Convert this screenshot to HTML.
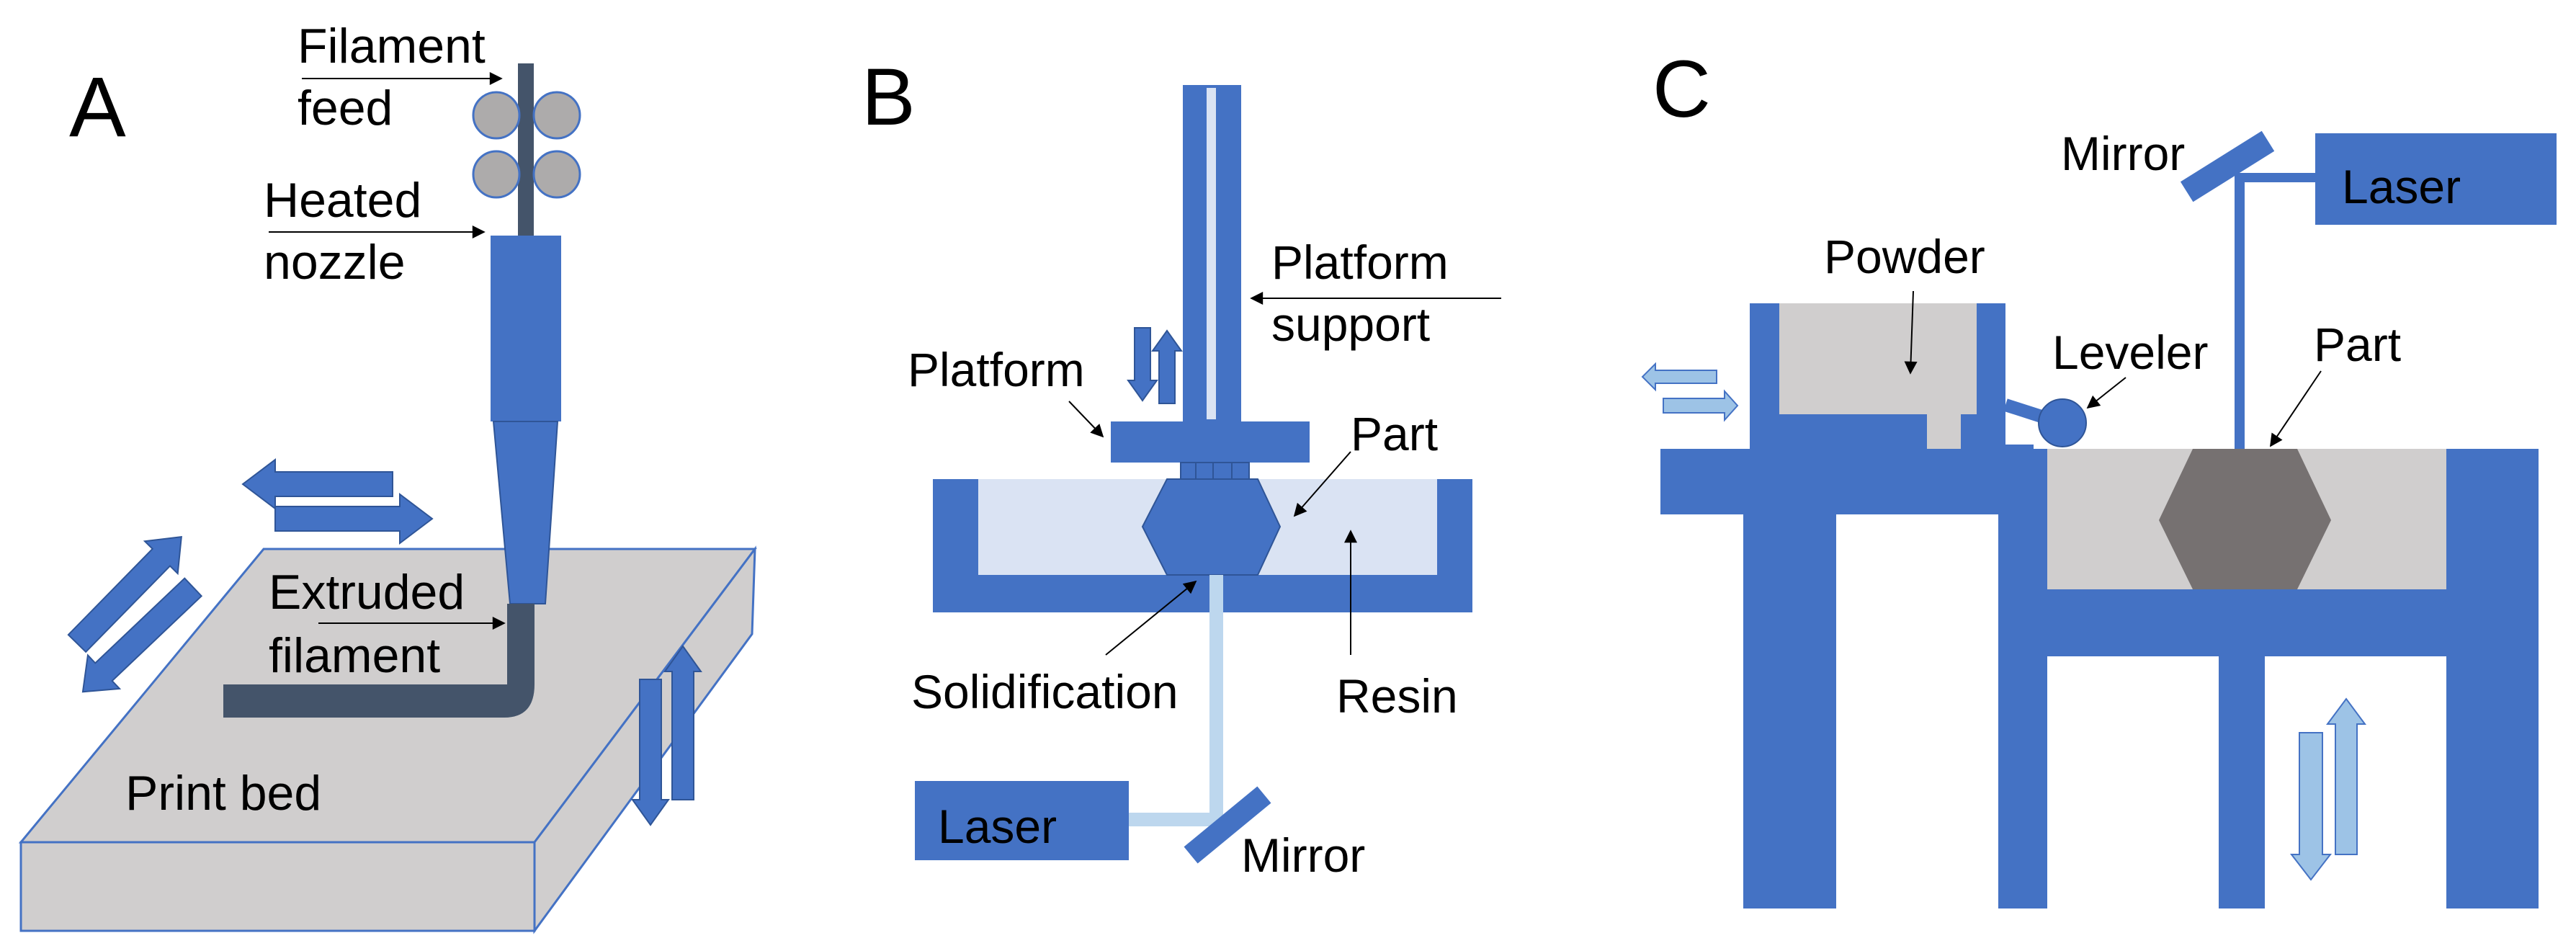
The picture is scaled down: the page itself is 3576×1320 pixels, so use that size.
<!DOCTYPE html>
<html><head><meta charset="utf-8"><style>html,body{margin:0;padding:0;background:#fff}svg{display:block}text{font-family:"Liberation Sans",Arial,sans-serif;fill:#000}</style></head>
<body>
<svg width="3576" height="1320" viewBox="0 0 3576 1320" xmlns="http://www.w3.org/2000/svg">
<defs>
<marker id="ah" viewBox="0 0 10 10" refX="9" refY="5" markerWidth="9" markerHeight="9" markerUnits="userSpaceOnUse" orient="auto"><path d="M0,0L10,5L0,10z" fill="#000"/></marker>
<marker id="ah2" viewBox="0 0 10 10" refX="9" refY="5" markerWidth="22" markerHeight="18" markerUnits="userSpaceOnUse" orient="auto"><path d="M0,0L10,5L0,10z" fill="#000"/></marker>
</defs>
<rect width="3576" height="1320" fill="#fff"/>

<!-- ================= Panel A ================= -->
<text x="96" y="189" font-size="118">A</text>
<!-- bed -->
<polygon points="366,762 1048,762 742,1169 29,1169" fill="#D0CECE" stroke="#4472C4" stroke-width="3"/>
<polygon points="29,1169 742,1169 742,1292 29,1292" fill="#D0CECE" stroke="#4472C4" stroke-width="3"/>
<polygon points="742,1169 1048,762 1044,880 742,1292" fill="#D0CECE" stroke="#4472C4" stroke-width="3"/>
<text x="174" y="1124" font-size="68">Print bed</text>
<!-- filament feed line -->
<rect x="719" y="88" width="22" height="240" fill="#44546A"/>
<circle cx="689" cy="160" r="32" fill="#ADABAB" stroke="#4472C4" stroke-width="3"/>
<circle cx="773" cy="160" r="32" fill="#ADABAB" stroke="#4472C4" stroke-width="3"/>
<circle cx="689" cy="242" r="32" fill="#ADABAB" stroke="#4472C4" stroke-width="3"/>
<circle cx="773" cy="242" r="32" fill="#ADABAB" stroke="#4472C4" stroke-width="3"/>
<!-- nozzle -->
<rect x="681" y="327" width="98" height="258" fill="#4472C4"/>
<polygon points="685,585 774,585 757,838 708,838" fill="#4472C4" stroke="#2F5597" stroke-width="2"/>
<!-- extruded filament -->
<path d="M704,838 L742,838 L742,950 Q742,996 700,996 L310,996 L310,950 L704,950 Z" fill="#44546A"/>
<!-- labels A -->
<text x="413" y="87" font-size="68">Filament</text>
<text x="413" y="173" font-size="68">feed</text>
<line x1="419" y1="109" x2="696" y2="109" stroke="#000" stroke-width="2" marker-end="url(#ah2)"/>
<text x="366" y="301" font-size="68">Heated</text>
<text x="366" y="387" font-size="68">nozzle</text>
<line x1="373" y1="322" x2="672" y2="322" stroke="#000" stroke-width="2" marker-end="url(#ah2)"/>
<text x="373" y="845" font-size="68">Extruded</text>
<text x="373" y="933" font-size="68">filament</text>
<line x1="442" y1="865" x2="700" y2="865" stroke="#000" stroke-width="2" marker-end="url(#ah2)"/>
<!-- block arrows A -->
<g fill="#4472C4" stroke="#2F5597" stroke-width="2">
<path transform="translate(545,672) rotate(180)" d="M0,-17 L163,-17 L163,-34 L208,0 L163,34 L163,17 L0,17Z"/>
<path transform="translate(382,720)" d="M0,-17 L173,-17 L173,-34 L218,0 L173,34 L173,17 L0,17Z"/>
<path transform="translate(107,893) rotate(-45.6)" d="M0,-17 L167,-17 L167,-32 L207,0 L167,32 L167,17 L0,17Z"/>
<path transform="translate(268,815) rotate(136.5)" d="M0,-17 L171,-17 L171,-32 L211,0 L171,32 L171,17 L0,17Z"/>
<path transform="translate(903,943) rotate(90)" d="M0,-15 L167,-15 L167,-25 L202,0 L167,25 L167,15 L0,15Z"/>
<path transform="translate(948,1110) rotate(-90)" d="M0,-15 L178,-15 L178,-25 L213,0 L178,25 L178,15 L0,15Z"/>
</g>

<!-- ================= Panel B ================= -->
<text x="1196" y="173" font-size="112">B</text>
<rect x="1642" y="118" width="81" height="467" fill="#4472C4"/>
<rect x="1675" y="122" width="13" height="460" fill="#DAE3F3"/>
<rect x="1542" y="585" width="276" height="57" fill="#4472C4"/>
<rect x="1639" y="642" width="95" height="23" fill="#4472C4" stroke="#2F5597" stroke-width="2"/>
<line x1="1660" y1="642" x2="1660" y2="665" stroke="#2F5597" stroke-width="2"/>
<line x1="1684" y1="642" x2="1684" y2="665" stroke="#2F5597" stroke-width="2"/>
<line x1="1710" y1="642" x2="1710" y2="665" stroke="#2F5597" stroke-width="2"/>
<rect x="1295" y="665" width="749" height="185" fill="#4472C4"/>
<rect x="1358" y="665" width="637" height="133" fill="#DAE3F3"/>
<polygon points="1586,731 1620,665 1746,665 1777,731 1746,798 1620,798" fill="#4472C4" stroke="#2F5597" stroke-width="2"/>
<rect x="1679" y="798" width="19" height="345" fill="#BDD7EE"/>
<rect x="1566" y="1128" width="125" height="19" fill="#BDD7EE"/>
<rect x="1270" y="1084" width="297" height="110" fill="#4472C4"/>
<text x="1302" y="1170" font-size="66">Laser</text>
<rect x="1638" y="1130" width="132" height="30" fill="#4472C4" transform="rotate(-39.5 1704 1145)"/>
<text x="1723" y="1210" font-size="66">Mirror</text>
<text x="1765" y="387" font-size="66">Platform</text>
<text x="1765" y="473" font-size="66">support</text>
<line x1="2084" y1="414" x2="1737" y2="414" stroke="#000" stroke-width="2" marker-end="url(#ah2)"/>
<text x="1260" y="536" font-size="66">Platform</text>
<line x1="1484" y1="557" x2="1531" y2="606" stroke="#000" stroke-width="2" marker-end="url(#ah2)"/>
<text x="1875" y="625" font-size="66">Part</text>
<line x1="1875" y1="627" x2="1797" y2="716" stroke="#000" stroke-width="2" marker-end="url(#ah2)"/>
<text x="1855" y="989" font-size="66">Resin</text>
<line x1="1875" y1="909" x2="1875" y2="737" stroke="#000" stroke-width="2" marker-end="url(#ah2)"/>
<text x="1265" y="983" font-size="66">Solidification</text>
<line x1="1535" y1="909" x2="1660" y2="807" stroke="#000" stroke-width="2" marker-end="url(#ah2)"/>
<g fill="#4472C4" stroke="#2F5597" stroke-width="2">
<path transform="translate(1586,455) rotate(90)" d="M0,-11 L73,-11 L73,-20 L101,0 L73,20 L73,11 L0,11Z"/>
<path transform="translate(1620,560) rotate(-90)" d="M0,-11 L73,-11 L73,-20 L101,0 L73,20 L73,11 L0,11Z"/>
</g>

<!-- ================= Panel C ================= -->
<text x="2294" y="162" font-size="112">C</text>
<rect x="3026" y="217" width="133" height="33" fill="#4472C4" transform="rotate(-32 3088 233)"/>
<text x="2861" y="236" font-size="66">Mirror</text>
<rect x="3214" y="185" width="335" height="127" fill="#4472C4"/>
<text x="3251" y="282" font-size="66">Laser</text>
<rect x="3102" y="240" width="112" height="13" fill="#4472C4"/>
<rect x="3102" y="244" width="14" height="379" fill="#4472C4"/>
<!-- powder hopper -->
<rect x="2470" y="421" width="274" height="154" fill="#D0CECE"/>
<rect x="2675" y="575" width="47" height="48" fill="#D0CECE"/>
<rect x="2429" y="421" width="41" height="202" fill="#4472C4"/>
<rect x="2744" y="421" width="40" height="202" fill="#4472C4"/>
<rect x="2470" y="575" width="205" height="48" fill="#4472C4"/>
<rect x="2722" y="575" width="22" height="48" fill="#4472C4"/>
<rect x="2722" y="617" width="101" height="6" fill="#4472C4"/>
<!-- structure -->
<rect x="2305" y="623" width="537" height="91" fill="#4472C4"/>
<rect x="2420" y="714" width="129" height="547" fill="#4472C4"/>
<rect x="2774" y="714" width="68" height="547" fill="#4472C4"/>
<rect x="2842" y="623" width="554" height="195" fill="#D0CECE"/>
<rect x="3396" y="623" width="128" height="638" fill="#4472C4"/>
<rect x="2842" y="818" width="564" height="93" fill="#4472C4"/>
<rect x="3080" y="911" width="64" height="350" fill="#4472C4"/>
<polygon points="2997,722 3044,623 3189,623 3236,722 3189,818 3044,818" fill="#767171"/>
<!-- leveler -->
<line x1="2784" y1="562" x2="2840" y2="580" stroke="#4472C4" stroke-width="18"/>
<circle cx="2863" cy="587" r="33" fill="#4472C4" stroke="#2F5597" stroke-width="2"/>
<text x="2532" y="379" font-size="66">Powder</text>
<line x1="2656" y1="404" x2="2652" y2="518" stroke="#000" stroke-width="2" marker-end="url(#ah2)"/>
<text x="2849" y="512" font-size="66">Leveler</text>
<line x1="2951" y1="524" x2="2898" y2="566" stroke="#000" stroke-width="2" marker-end="url(#ah2)"/>
<text x="3212" y="501" font-size="66">Part</text>
<line x1="3222" y1="515" x2="3152" y2="619" stroke="#000" stroke-width="2" marker-end="url(#ah2)"/>
<g fill="#9DC3E6" stroke="#4472C4" stroke-width="2">
<path transform="translate(2383,523) rotate(180)" d="M0,-9 L85,-9 L85,-18 L103,0 L85,18 L85,9 L0,9Z"/>
<path transform="translate(2309,563)" d="M0,-10 L85,-10 L85,-20 L103,0 L85,20 L85,10 L0,10Z"/>
<path transform="translate(3208,1017) rotate(90)" d="M0,-16 L169,-16 L169,-27 L204,0 L169,27 L169,16 L0,16Z"/>
<path transform="translate(3257,1186) rotate(-90)" d="M0,-15 L181,-15 L181,-26 L216,0 L181,26 L181,15 L0,15Z"/>
</g>
</svg>
</body></html>
